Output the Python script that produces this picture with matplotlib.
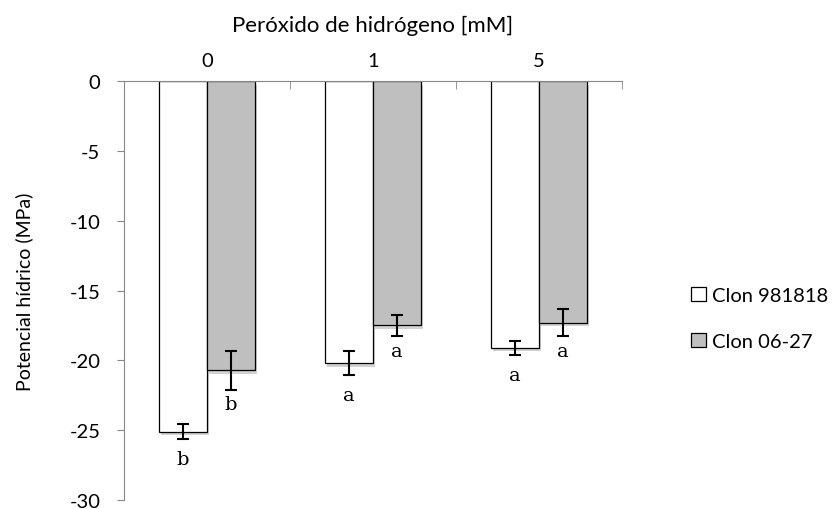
import numpy as np
import matplotlib
matplotlib.use('Agg')
import matplotlib.pyplot as plt
import matplotlib.patheffects as pe

plt.rcParams['font.family'] = ['Lato', 'DejaVu Sans']
plt.rcParams['axes.unicode_minus'] = False

# data
categories = ['0', '1', '5']
series = ['Clon 981818', 'Clon 06-27']
mean_981818 = [-25.1, -20.2, -19.1]
err_981818 = [0.55, 0.85, 0.5]
mean_0627 = [-20.7, -17.5, -17.3]
err_0627 = [1.4, 0.75, 0.95]
letters_981818 = ['b', 'a', 'a']
letters_0627 = ['b', 'a', 'a']

fig = plt.figure(figsize=(8.38, 5.10), dpi=100)
ax = fig.add_axes([0.148, 0.0176, 0.594, 0.8214])

x = np.arange(len(categories))
w = 0.29
shadow = [pe.SimplePatchShadow(offset=(1.5, -2.5), shadow_rgbFace='0.5', alpha=0.35), pe.Normal()]

ax.bar(x - w/2, mean_981818, w, color='white', edgecolor='black', linewidth=0.9,
       label=series[0], path_effects=shadow, zorder=2)
ax.bar(x + w/2, mean_0627, w, color='#bfbfbf', edgecolor='black', linewidth=0.9,
       label=series[1], path_effects=shadow, zorder=2)
ax.errorbar(x - w/2, mean_981818, yerr=err_981818, fmt='none', ecolor='black',
            elinewidth=1.5, capsize=4.5, capthick=1.5, zorder=3)
ax.errorbar(x + w/2, mean_0627, yerr=err_0627, fmt='none', ecolor='black',
            elinewidth=1.5, capsize=4.5, capthick=1.5, zorder=3)

for i in range(len(categories)):
    ax.annotate(letters_981818[i], (x[i] - w/2, mean_981818[i] - err_981818[i]),
                xytext=(0, -8), textcoords='offset points', ha='center', va='top',
                fontsize=14, family='DejaVu Serif')
    ax.annotate(letters_0627[i], (x[i] + w/2, mean_0627[i] - err_0627[i]),
                xytext=(0, -4), textcoords='offset points', ha='center', va='top',
                fontsize=14, family='DejaVu Serif')

ax.set_xlim(-0.5, 2.5)
ax.set_ylim(-30, 0)
ax.set_yticks(np.arange(-30, 1, 5))
ax.tick_params(axis='y', direction='out', length=5, color='#868686', labelsize=14.5, pad=12)

ax.xaxis.tick_top()
ax.xaxis.set_label_position('top')
ax.set_xticks(x)
ax.set_xticklabels(categories)
ax.set_xticks([-0.5, 0.5, 1.5, 2.5], minor=True)
ax.tick_params(axis='x', which='major', length=0, labelsize=14.5, pad=9)
ax.tick_params(axis='x', which='minor', direction='in', length=6, color='#868686')
ax.set_xlabel('Peróxido de hidrógeno [mM]', fontsize=16, labelpad=15)
ax.set_ylabel('Potencial hídrico (MPa)', fontsize=14, labelpad=26)

for s in ['right', 'bottom']:
    ax.spines[s].set_visible(False)
for s in ['left', 'top']:
    ax.spines[s].set_color('#868686')

leg = ax.legend(loc='center left', bbox_to_anchor=(1.14, 0.433), frameon=False,
                fontsize=14.5, handlelength=0.7, handleheight=0.7, handletextpad=0.3,
                labelspacing=1.45, borderaxespad=0, borderpad=0)
for h in leg.legend_handles:
    h.set_path_effects([])

fig.savefig('out.png', dpi=100)
